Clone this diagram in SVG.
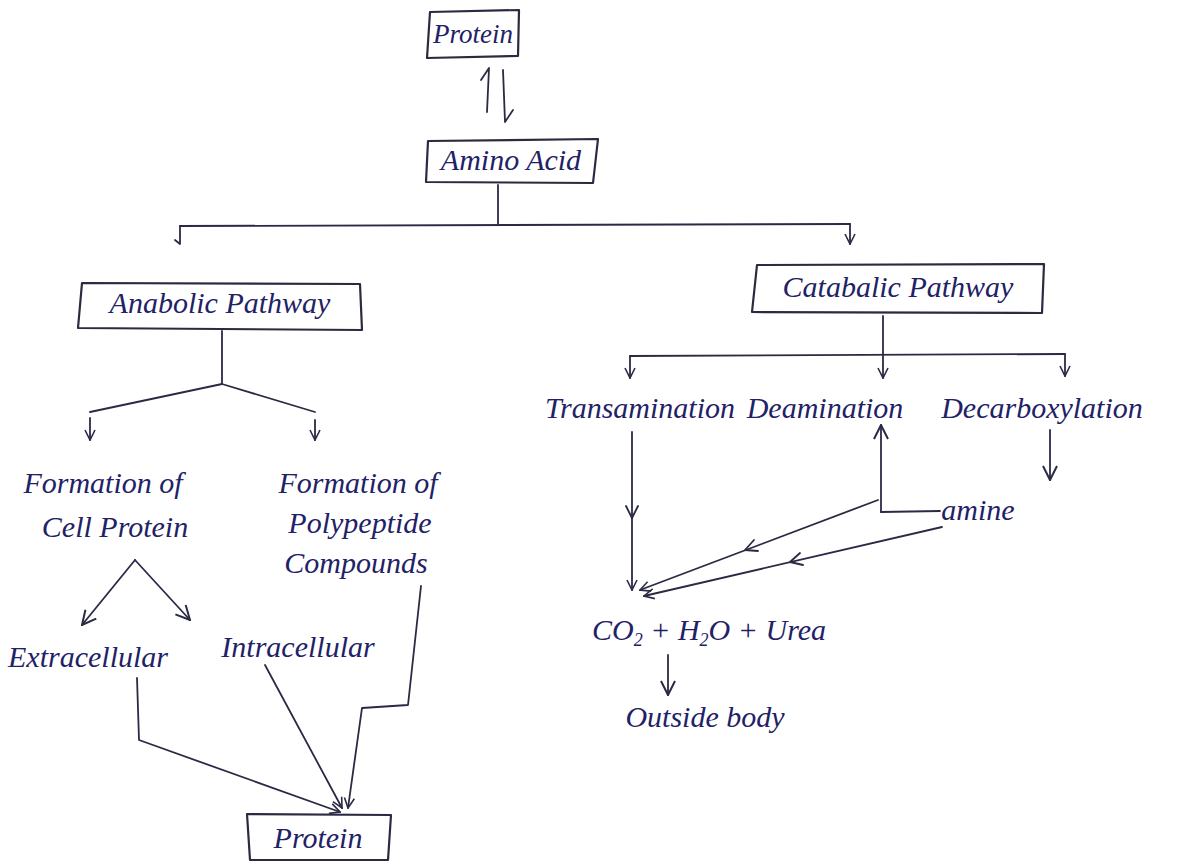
<svg xmlns="http://www.w3.org/2000/svg" width="1178" height="865" viewBox="0 0 1178 865">
  <style>
    .ink { fill: none; stroke: #2a2a45; stroke-width: 1.8; stroke-linecap: round; stroke-linejoin: round; }
    .box { fill: none; stroke: #2a2a40; stroke-width: 2.2; stroke-linejoin: round; }
    .lbl { font-family: "Liberation Serif", "DejaVu Serif", serif; font-style: italic; fill: #1f2266; font-size: 30px; }
    .mid { text-anchor: middle; }
  </style>
  <defs>
    <marker id="tip" viewBox="0 0 12 12" refX="11" refY="6" markerWidth="12" markerHeight="12" markerUnits="userSpaceOnUse" orient="auto">
      <path d="M1,1 L11,6 L1,11" fill="none" stroke="#2a2a45" stroke-width="1.6"/>
    </marker>
    <marker id="tipBig" viewBox="0 0 16 16" refX="15" refY="8" markerWidth="16" markerHeight="16" markerUnits="userSpaceOnUse" orient="auto">
      <path d="M1,1 L15,8 L1,15" fill="none" stroke="#2a2a45" stroke-width="2"/>
    </marker>
  </defs>
  <rect width="1178" height="865" fill="#ffffff"/>

  <!-- connectors -->
  <g id="connectors">
    <!-- protein / amino acid reversible -->
    <path class="ink" d="M487,112 L489,68 L481,80"/>
    <path class="ink" d="M503,70 L505,122 L513,110"/>
    <!-- amino acid split -->
    <path class="ink" d="M498,185 L498,224"/>
    <path class="ink" d="M180,226 L850,224"/>
    <path class="ink" d="M180,226 L180,244 L175,240"/>
    <path class="ink" d="M850,224 L850,244" marker-end="url(#tip)"/>
    <!-- anabolic branches -->
    <path class="ink" d="M222,331 L222,384 L90,412"/>
    <path class="ink" d="M222,384 L315,412"/>
    <path class="ink" d="M90,418 L90,440" marker-end="url(#tip)"/>
    <path class="ink" d="M315,420 L315,440" marker-end="url(#tip)"/>
    <!-- cell protein split -->
    <path class="ink" d="M135,560 L82,625" marker-end="url(#tipBig)"/>
    <path class="ink" d="M135,560 L190,620" marker-end="url(#tipBig)"/>
    <!-- to final protein -->
    <path class="ink" d="M137,678 L139,740 L340,812" marker-end="url(#tip)"/>
    <path class="ink" d="M265,665 L342,808" marker-end="url(#tip)"/>
    <path class="ink" d="M421,586 L408,705 L362,708 L348,808" marker-end="url(#tip)"/>
    <!-- catabolic branches -->
    <path class="ink" d="M883,316 L883,355"/>
    <path class="ink" d="M630,356 L1065,354"/>
    <path class="ink" d="M630,356 L630,378" marker-end="url(#tip)"/>
    <path class="ink" d="M883,355 L883,378" marker-end="url(#tip)"/>
    <path class="ink" d="M1065,354 L1065,376" marker-end="url(#tip)"/>
    <!-- transamination down -->
    <path class="ink" d="M632,432 L632,590" marker-end="url(#tip)"/>
    <path class="ink" d="M626,506 L632,518 L638,506"/>
    <!-- deamination up arrow and amine link -->
    <path class="ink" d="M881,512 L881,425" marker-end="url(#tipBig)"/>
    <path class="ink" d="M881,512 L940,511"/>
    <path class="ink" d="M878,500 L640,590" marker-end="url(#tip)"/>
    <path class="ink" d="M758,551 L745,550 L754,540"/>
    <!-- decarboxylation to amine -->
    <path class="ink" d="M1050,430 L1050,480" marker-end="url(#tipBig)"/>
    <!-- amine to products -->
    <path class="ink" d="M942,527 L644,596" marker-end="url(#tip)"/>
    <path class="ink" d="M803,565 L790,562 L800,553"/>
    <!-- products to outside -->
    <path class="ink" d="M668,655 L668,695" marker-end="url(#tipBig)"/>
  </g>

  <g id="protein-top">
    <path class="box" d="M430,12 L519,10 L518,56 L427,58 Z"/>
    <text class="lbl mid" x="473" y="43" style="font-size:27px">Protein</text>
  </g>
  <g id="amino-acid">
    <path class="box" d="M428,141 L598,139 L593,183 L426,182 Z"/>
    <text class="lbl mid" x="511" y="170">Amino Acid</text>
  </g>
  <g id="anabolic">
    <path class="box" d="M82,283 L360,284 L362,330 L78,328 Z"/>
    <text class="lbl mid" x="220" y="313">Anabolic Pathway</text>
  </g>
  <g id="catabolic">
    <path class="box" d="M757,265 L1044,264 L1042,313 L752,312 Z"/>
    <text class="lbl mid" x="898" y="297">Catabalic Pathway</text>
  </g>
  <g id="cell-protein">
    <text class="lbl mid" x="103" y="493">Formation of</text>
    <text class="lbl mid" x="115" y="537">Cell Protein</text>
  </g>
  <g id="polypeptide">
    <text class="lbl mid" x="358" y="493">Formation of</text>
    <text class="lbl mid" x="360" y="533">Polypeptide</text>
    <text class="lbl mid" x="356" y="573">Compounds</text>
  </g>
  <g id="extracellular">
    <text class="lbl mid" x="88" y="667">Extracellular</text>
  </g>
  <g id="intracellular">
    <text class="lbl mid" x="298" y="657">Intracellular</text>
  </g>
  <g id="protein-bottom">
    <path class="box" d="M247,814 L391,815 L388,860 L250,860 Z"/>
    <text class="lbl mid" x="318" y="848">Protein</text>
  </g>
  <g id="transamination">
    <text class="lbl mid" x="640" y="418">Transamination</text>
  </g>
  <g id="deamination">
    <text class="lbl mid" x="825" y="418">Deamination</text>
  </g>
  <g id="decarboxylation">
    <text class="lbl mid" x="1042" y="418">Decarboxylation</text>
  </g>
  <g id="amine">
    <text class="lbl mid" x="978" y="520">amine</text>
  </g>
  <g id="products">
    <text class="lbl" x="592" y="640">CO<tspan font-size="18" dy="6">2</tspan><tspan dy="-6"> + H</tspan><tspan font-size="18" dy="6">2</tspan><tspan dy="-6">O + Urea</tspan></text>
  </g>
  <g id="outside-body">
    <text class="lbl mid" x="705" y="727">Outside body</text>
  </g>
</svg>
